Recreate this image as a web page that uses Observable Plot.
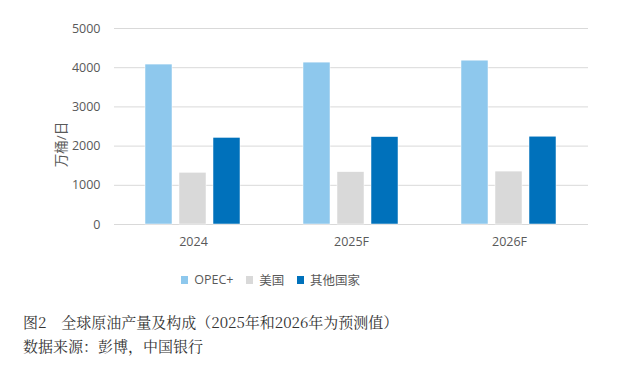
<!DOCTYPE html>
<html><head><meta charset="utf-8">
<script src="https://cdn.jsdelivr.net/npm/d3@7"></script>
<script src="https://cdn.jsdelivr.net/npm/@observablehq/plot@0.6"></script>
<style>
body{margin:0;background:#fff;font-family:"Open Sans","Noto Sans CJK SC",sans-serif;}
#wrap{position:relative;width:642px;height:371px;overflow:hidden;}
#chart{position:absolute;left:0;top:0;}
#legend{position:absolute;left:181px;top:263px;}
.cap{position:absolute;left:23px;font-family:"Noto Serif CJK SC","Noto Sans CJK SC",serif;font-size:15px;color:#333;white-space:pre;}
</style></head>
<body><div id="wrap"><div id="chart"></div><div id="legend"></div>
<div class="cap" style="top:311px">图2　全球原油产量及构成（2025年和2026年为预测值）</div>
<div class="cap" style="top:335px">数据来源：彭博，中国银行</div>
</div>
<script>
const years = ["2024", "2025F", "2026F"];
const series = ["OPEC+", "美国", "其他国家"];
const opec = [4080, 4130, 4180];
const us = [1320, 1335, 1350];
const others = [2210, 2230, 2240];
const yTicks = [0, 1000, 2000, 3000, 4000, 5000];
const yLabel = "万桶/日";
const colors = ["#8EC8ED", "#D9D9D9", "#0071BB"];

const rows = [];
years.forEach((yr, i) => {
  rows.push({year: yr, s: series[0], v: opec[i]});
  rows.push({year: yr, s: series[1], v: us[i]});
  rows.push({year: yr, s: series[2], v: others[i]});
});

const font = '"Open Sans","Noto Sans CJK SC",sans-serif';
const chart = Plot.plot({
  width: 642, height: 262,
  marginLeft: 113, marginRight: 54, marginTop: 28, marginBottom: 38,
  style: {fontFamily: font, fontSize: "12.5px", color: "#595959"},
  fx: {domain: years, padding: 0, label: null},
  x: {domain: series, paddingInner: 0.2, paddingOuter: 0.9, axis: null},
  y: {domain: [0, 5000], axis: null},
  color: {domain: series, range: colors},
  marks: [
    Plot.gridY(yTicks.slice(1), {stroke: "#d9d9d9", strokeOpacity: 1}),
    Plot.ruleY([0], {stroke: "#d9d9d9"}),
    Plot.barY(rows, {fx: "year", x: "s", y: "v", fill: "s", stroke: "white", strokeWidth: 0.5}),
    Plot.axisY(yTicks, {anchor: "left", tickSize: 0, tickPadding: 14, line: true, stroke: "#d9d9d9", fill: "#595959",
      fontSize: 12.5, tickFormat: d => String(d), label: null}),
    Plot.text([yLabel], {fx: () => years[0], y: () => 2040, frameAnchor: "left", textAnchor: "middle", dx: -53, rotate: -90,
      fill: "#595959", fontSize: 13.5, text: d => d}),
    Plot.axisFx({anchor: "bottom", tickSize: 0, tickPadding: 13, fill: "#595959", fontSize: 12.5, label: null})
  ]
});
document.getElementById("chart").append(chart);

const leg = Plot.legend({
  color: {domain: series, range: colors},
  swatchSize: 8, swatchWidth: 7, swatchHeight: 8,
  style: {fontFamily: font, fontSize: "12.5px", color: "#595959"}
});
document.getElementById("legend").append(leg);
</script></body></html>
